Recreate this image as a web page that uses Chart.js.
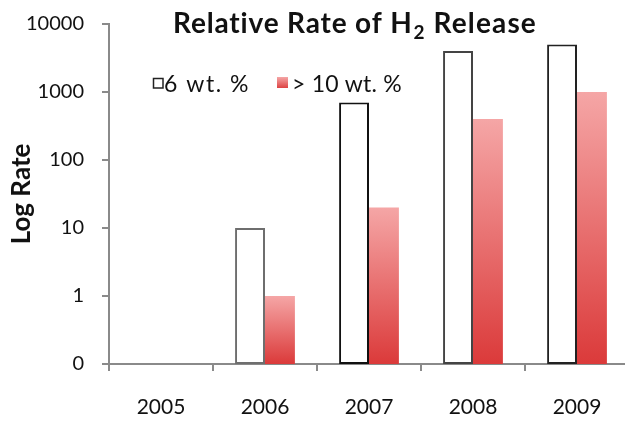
<!DOCTYPE html>
<html>
<head>
<meta charset="utf-8">
<script src="https://cdn.jsdelivr.net/npm/chart.js@4/dist/chart.umd.min.js"></script>
<style>
  html, body { margin: 0; padding: 0; background: #fff; overflow: hidden; width: 625px; height: 422px; }
  canvas { display: block; }
</style>
</head>
<body>
<canvas id="c" width="640" height="422"></canvas>
<script>
const years = ['2005', '2006', '2007', '2008', '2009'];
const rate6wt = [null, 10, 700, 4000, 5000];
const rate10wt = [null, 1, 20, 400, 1000];
const yTickValues = [0.1, 1, 10, 100, 1000, 10000];
const yTickLabels = ['0', '1', '10', '100', '1000', '10000'];
const seriesNames = ['6 wt. %', '> 10 wt. %'];
const titleParts = ['Relative Rate of H', '2', ' Release'];
const yTitle = 'Log Rate';

const FONT = 'Lato, "Open Sans", "DejaVu Sans", sans-serif';

function redGradient(ctx, top, bottom) {
  const g = ctx.createLinearGradient(0, top, 0, bottom);
  g.addColorStop(0, '#F5A6A6');
  g.addColorStop(1, '#DB3A3A');
  return g;
}

// draw text stretched with letter spacing to a target width
function fitText(ctx, text, x, y, targetW) {
  ctx.letterSpacing = '0px';
  const w = ctx.measureText(text).width;
  const sp = Math.max(0, (targetW - w) / text.length);
  ctx.letterSpacing = sp.toFixed(2) + 'px';
  ctx.fillText(text, x, y);
  const out = ctx.measureText(text).width;
  ctx.letterSpacing = '0px';
  return out;
}

const overlayPlugin = {
  id: 'overlay',
  afterDraw(chart) {
    const ctx = chart.ctx;
    ctx.save();
    // Title with subscript
    ctx.fillStyle = '#111';
    ctx.textBaseline = 'alphabetic';
    ctx.textAlign = 'left';
    const big = 'bold 28px ' + FONT;
    const small = 'bold 19px ' + FONT;
    const base = 33;
    let x = 173;
    ctx.font = big;
    x += fitText(ctx, titleParts[0], x, base, 240);
    ctx.font = small;
    ctx.fillText(titleParts[1], x + 1, base + 6);
    x += ctx.measureText(titleParts[1]).width + 2;
    ctx.font = big;
    fitText(ctx, titleParts[2], x, base, 537 - x);

    // Legend
    ctx.font = '23px ' + FONT;
    ctx.textBaseline = 'middle';
    ctx.fillStyle = '#fff';
    ctx.fillRect(153, 78, 10, 10);
    ctx.strokeStyle = '#222';
    ctx.lineWidth = 1.5;
    ctx.strokeRect(153.5, 78.5, 9.5, 9.5);
    ctx.fillStyle = '#111';
    fitText(ctx, seriesNames[0], 164, 85, 86);
    ctx.fillStyle = redGradient(ctx, 77, 89);
    ctx.fillRect(277, 77, 11, 11);
    ctx.fillStyle = '#111';
    fitText(ctx, seriesNames[1], 292, 85, 110);
    ctx.restore();
  }
};

new Chart(document.getElementById('c'), {
  type: 'bar',
  data: {
    labels: years,
    datasets: [
      {
        label: seriesNames[0],
        data: rate6wt,
        backgroundColor: '#ffffff',
        borderColor: ['#222', '#6e6e6e', '#111', '#444', '#222'],
        borderWidth: 2,
        borderSkipped: false
      },
      {
        label: seriesNames[1],
        data: rate10wt,
        borderWidth: 0,
        backgroundColor: (c) => {
          const chart = c.chart;
          if (!chart.chartArea || c.type !== 'data' || c.raw == null) return '#E55';
          const y = chart.scales.y;
          return redGradient(chart.ctx, y.getPixelForValue(c.raw), y.getPixelForValue(y.min));
        }
      }
    ]
  },
  options: {
    responsive: false,
    animation: false,
    layout: { padding: { left: 0, right: 11, top: 24, bottom: 0 } },
    plugins: {
      legend: { display: false },
      title: { display: false },
      tooltip: { enabled: false }
    },
    datasets: {
      bar: { categoryPercentage: 0.575, barPercentage: 1.0 }
    },
    scales: {
      x: {
        offset: true,
        grid: { display: true, drawOnChartArea: false, drawTicks: true, tickLength: 7, color: '#8a8a8a', lineWidth: 2, offset: true },
        border: { display: true, color: '#8a8a8a', width: 2 },
        ticks: { color: '#111', font: { family: FONT, size: 21 }, padding: 24 },
        afterFit(scale) { scale.height = 58; scale.paddingLeft = 0; scale.paddingRight = 0; }
      },
      y: {
        type: 'logarithmic',
        min: 0.1,
        max: 10000,
        afterBuildTicks(scale) {
          scale.ticks = yTickValues.map(v => ({ value: v, major: false }));
        },
        grid: { display: true, drawOnChartArea: false, drawTicks: true, tickLength: 7, color: '#8a8a8a', lineWidth: 2 },
        border: { display: true, color: '#8a8a8a', width: 2 },
        ticks: {
          color: '#111',
          font: { family: FONT, size: 20 },
          padding: 18,
          autoSkip: false,
          callback: (v) => {
            const i = yTickValues.findIndex(t => Math.abs(t - v) < 1e-9);
            return i >= 0 ? yTickLabels[i] : '';
          }
        },
        title: {
          display: true,
          text: yTitle,
          color: '#111',
          font: { family: FONT, size: 26, weight: 'bold' },
          padding: { top: 6, bottom: 0 }
        },
        afterFit(scale) { scale.width = 109; scale.paddingTop = 0; scale.paddingBottom = 0; }
      }
    }
  },
  plugins: [overlayPlugin]
});
</script>
</body>
</html>
